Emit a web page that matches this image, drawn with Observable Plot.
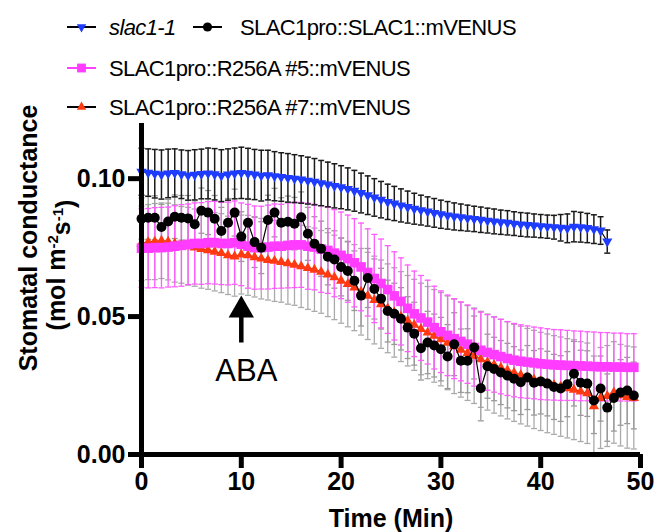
<!DOCTYPE html>
<html><head><meta charset="utf-8">
<script src="https://cdn.jsdelivr.net/npm/d3@7"></script>
<script src="https://cdn.jsdelivr.net/npm/@observablehq/plot@0.6"></script>
<style>
body{margin:0;background:#fff;font-family:"Liberation Sans",Arial,sans-serif;}
#wrap{position:relative;width:666px;height:532px;overflow:hidden;}
#legend{position:absolute;left:0;top:0;width:666px;height:113px;}
#chart{position:absolute;left:0;top:113px;}
</style></head><body>
<div id="wrap"><div id="legend"></div><div id="chart"></div></div>
<script>
// ---- data ----
const time = [0,0.67,1.33,2,2.67,3.33,4,4.67,5.33,6,6.67,7.33,8,8.67,9.33,10,10.67,11.33,12,12.67,13.33,14,14.67,15.33,16,16.67,17.33,18,18.67,19.33,20,20.67,21.33,22,22.67,23.33,24,24.67,25.33,26,26.67,27.33,28,28.67,29.33,30,30.67,31.33,32,32.67,33.33,34,34.67,35.33,36,36.67,37.33,38,38.67,39.33,40,40.67,41.33,42,42.67,43.33,44,44.67,45.33,46,46.67,47.33,48,48.67,49.33];

const slac1Val = [0.1025,0.1022,0.1018,0.1015,0.1019,0.1021,0.1016,0.1012,0.1014,0.1017,0.1019,0.1016,0.1011,0.1015,0.1019,0.1021,
0.1018,0.1015,0.1011,0.1013,0.1009,0.1006,0.1003,0.1000,0.0997,0.0993,0.0989,0.0984,0.0979,0.0974,0.0969,
0.0963,0.0956,0.0948,0.0940,0.0932,0.0924,0.0916,0.0910,0.0903,0.0897,0.0891,0.0886,0.0881,0.0876,0.0871,
0.0867,0.0863,0.0860,0.0857,0.0854,0.0851,0.0848,0.0845,0.0842,0.0840,0.0837,0.0834,0.0832,0.0830,0.0828,
0.0826,0.0824,0.0822,0.0820,0.0826,0.0824,0.0821,0.0817,0.0812,0.0772];
const slac1Err = [0.0085,0.0086,0.0088,0.0089,0.0088,0.0087,0.0088,0.009,0.0091,0.009,0.0092,0.0093,0.0094,0.0093,0.0092,0.0093,
0.0092,0.0091,0.0092,0.009,0.0089,0.0088,0.0088,0.0087,0.0086,0.0085,0.0084,0.0082,0.0081,0.008,0.0078,
0.0076,0.0074,0.0072,0.007,0.0068,0.0066,0.0064,0.0062,0.006,0.0058,0.0056,0.0054,0.0053,0.0052,0.0051,
0.005,0.0049,0.0048,0.0047,0.0046,0.0046,0.0045,0.0045,0.0044,0.0044,0.0043,0.0043,0.0043,0.0042,0.0042,
0.0042,0.0043,0.0048,0.0052,0.0055,0.0054,0.0053,0.0052,0.005,0.0042];

const wtVal = [0.0855,0.0858,0.0858,0.0825,0.0845,0.0862,0.0858,0.0856,0.0835,0.0884,
0.0877,0.0855,0.081,0.084,0.0877,0.079,0.084,0.077,0.075,0.085,
0.0877,0.084,0.0844,0.0837,0.086,0.080,0.0764,0.0746,0.0717,0.0707,
0.068,0.0665,0.063,0.0576,0.064,0.060,0.0565,0.052,0.051,0.0492,
0.046,0.0438,0.0385,0.0406,0.0395,0.0382,0.0355,0.040,0.034,0.034,
0.0388,0.024,0.032,0.031,0.0297,0.0286,0.0275,0.0262,0.0279,0.026,
0.0265,0.0257,0.0245,0.0239,0.0255,0.0293,0.026,0.0257,0.0196,0.0239,
0.017,0.0205,0.0225,0.0232,0.0214];
const wtErr = [0.0075,0.0078,0.008,0.0082,0.008,0.0079,0.0081,0.0083,0.0085,0.0082,
0.008,0.0084,0.0086,0.0088,0.0085,0.009,0.0088,0.0092,0.0094,0.009,
0.0088,0.0091,0.0093,0.0095,0.0092,0.0096,0.0098,0.01,0.0102,0.0104,
0.0105,0.0106,0.0108,0.011,0.0107,0.0109,0.011,0.0112,0.0111,0.0113,
0.0112,0.0114,0.0115,0.0113,0.0114,0.0115,0.0116,0.0114,0.0115,0.0116,
0.0114,0.0118,0.0116,0.0115,0.0116,0.0117,0.0116,0.0117,0.0116,0.0117,
0.0118,0.0117,0.0118,0.0119,0.0118,0.0117,0.0118,0.0119,0.012,0.0118,
0.0122,0.012,0.0119,0.012,0.0121];

const r5Val = [0.0748,0.0748,0.075,0.075,0.0752,0.0755,0.0758,0.0762,0.0765,0.0765,0.0768,
0.0768,0.0765,0.0765,0.0768,0.0762,0.0755,0.075,0.075,0.0752,0.0755,
0.0755,0.0758,0.076,0.076,0.0755,0.0752,0.0745,0.074,0.073,0.0722,
0.071,0.0695,0.068,0.066,0.0638,0.062,0.0598,0.0575,0.0555,0.053,
0.051,0.0495,0.048,0.046,0.0445,0.0432,0.042,0.041,0.040,0.0388,
0.0378,0.037,0.0362,0.0355,0.0348,0.0342,0.0338,0.0335,0.0332,0.0329,
0.0327,0.0325,0.0324,0.0323,0.0322,0.0321,0.032,0.0319,0.0318,0.0318,
0.0317,0.0317,0.0316,0.0316];
const r5Err = [0.0142,0.0144,0.0145,0.0146,0.0145,0.0147,0.0148,0.0146,0.0147,0.0148,0.0149,
0.015,0.0149,0.015,0.0151,0.015,0.0152,0.0151,0.015,0.0152,0.0153,
0.0152,0.0154,0.0155,0.0154,0.0156,0.0155,0.0157,0.0156,0.0158,0.0157,
0.0158,0.016,0.0159,0.0158,0.016,0.0161,0.0159,0.016,0.0158,0.0157,
0.0155,0.0154,0.0152,0.015,0.0148,0.0146,0.0145,0.0143,0.0142,0.014,
0.0138,0.0137,0.0136,0.0135,0.0134,0.0133,0.0132,0.0131,0.013,0.013,
0.0129,0.0128,0.0128,0.0127,0.0126,0.0126,0.0125,0.0125,0.0124,0.0124,
0.0123,0.0123,0.0122,0.0122];

const r7Val = [0.0765,0.077,0.0772,0.0775,0.0772,0.0765,0.076,0.0755,0.075,0.0745,0.074,
0.0735,0.073,0.0722,0.0718,0.0725,0.0722,0.0715,0.071,0.0705,0.0702,
0.0698,0.0693,0.0688,0.0682,0.0676,0.067,0.0662,0.0652,0.0642,0.063,
0.0618,0.0605,0.059,0.0575,0.056,0.0545,0.053,0.0515,0.05,0.0485,
0.047,0.0455,0.0442,0.043,0.0418,0.0405,0.0392,0.038,0.0368,0.0358,
0.0345,0.0335,0.0325,0.0315,0.0305,0.0296,0.0288,0.028,0.0272,0.0265,
0.0258,0.0252,0.0246,0.024,0.0235,0.0228,0.0222,0.0175,0.0205,0.0212,
0.0225,0.0215,0.0208,0.0205];
const r7Err = [0.0135,0.0136,0.0138,0.0137,0.0139,0.014,0.0139,0.0141,0.014,0.0142,0.0141,
0.0142,0.0143,0.0142,0.0144,0.0143,0.0145,0.0144,0.0146,0.0145,0.0147,
0.0146,0.0148,0.0147,0.0149,0.015,0.0151,0.015,0.0152,0.0153,0.0154,
0.0155,0.0156,0.0157,0.0158,0.0159,0.016,0.0161,0.0162,0.0163,0.0164,
0.0165,0.0166,0.0167,0.0168,0.0169,0.017,0.0171,0.0172,0.0172,0.0173,
0.0174,0.0174,0.0175,0.0175,0.0176,0.0176,0.0177,0.0177,0.0178,0.0178,
0.0179,0.0179,0.018,0.018,0.0181,0.0181,0.0182,0.0182,0.0183,0.0183,
0.0184,0.0184,0.0185,0.0185];

const seriesNames = ["slac1-1","SLAC1pro::SLAC1::mVENUS","SLAC1pro::R256A #5::mVENUS","SLAC1pro::R256A #7::mVENUS"];
const xTicks = [0,10,20,30,40,50];
const yTicks = [0,0.05,0.10];
const abaArrow = [{t:10, from:0.0406, to:0.0505, head:0.0523}];
const abaLabel = [{t:10, v:0.0304, text:"ABA"}];

// ---- styles ----
const markColors = ["#1e3cff","#000000","#ff3cff","#ff3a12"];
const lineColors = ["#000000","#000000","#ff3cff","#000000"];
const barColors = ["#1a1a1a","#999999","#ff5cff","#aaaaaa"];
const symbols = ["triangle","circle","square","triangle"];
const rotations = [180,0,0,0];
const radii = [3.8,5,5.4,3.8];

const build = (vals, errs) => vals.map((v,i) => ({t: time[i], v, e: errs[i]}));
const data = [build(slac1Val,slac1Err), build(wtVal,wtErr), build(r5Val,r5Err), build(r7Val,r7Err)];

function errBars(d, color, w) {
  return [
    Plot.ruleX(d, {x:"t", y1: r => r.v - r.e, y2: r => r.v + r.e, stroke: color, strokeWidth: w}),
    Plot.link(d, {x1: r => r.t - 0.3, x2: r => r.t + 0.3, y1: r => r.v + r.e, y2: r => r.v + r.e, stroke: color, strokeWidth: w}),
    Plot.link(d, {x1: r => r.t - 0.3, x2: r => r.t + 0.3, y1: r => r.v - r.e, y2: r => r.v - r.e, stroke: color, strokeWidth: w})
  ];
}
function seriesMarks(k) {
  return [
    Plot.line(data[k], {x:"t", y:"v", stroke: lineColors[k], strokeWidth: 1.2}),
    Plot.dot(data[k], {x:"t", y:"v", symbol: symbols[k], rotate: rotations[k], r: radii[k], fill: markColors[k], stroke: "none"})
  ];
}

const plot = Plot.plot({
  width: 666, height: 419,
  marginLeft: 141, marginRight: 26, marginTop: 10, marginBottom: 78,
  x: {domain: [0, 50]},
  y: {domain: [0, 0.12]},
  style: {fontFamily: "'Liberation Sans', Arial, sans-serif", fontSize: "25px", fontWeight: "bold", overflow: "visible", background: "transparent", color: "#000"},
  marks: [
    ...errBars(data[3], barColors[3], 1.3),
    ...errBars(data[1], barColors[1], 1.3),
    ...errBars(data[2], barColors[2], 1.3),
    ...errBars(data[0], barColors[0], 1.5),
    ...seriesMarks(3),
    ...seriesMarks(2),
    ...seriesMarks(1),
    ...seriesMarks(0),
    Plot.link(abaArrow, {x1:"t", x2:"t", y1:"from", y2:"to", stroke:"#000", strokeWidth:4.5}),
    Plot.dot(abaArrow, {x:"t", y:"head", symbol:"triangle", r:9.4, fill:"#000", stroke:"none"}),
    Plot.text(abaLabel, {x:"t", y:"v", text:"text", dx:5, fontSize:31, fontWeight:"normal", fill:"#000"}),
    Plot.ruleX([0], {stroke:"#000", strokeWidth:5}),
    Plot.ruleY([0], {stroke:"#000", strokeWidth:5}),
    Plot.axisX({ticks: xTicks, tickSize: 14, tickPadding: 4, strokeWidth: 5, label: null, fontSize: 25, fontWeight: "bold"}),
    Plot.axisY({ticks: yTicks, tickFormat: d => d.toFixed(2), tickSize: 13, tickPadding: 3, strokeWidth: 5, label: null, fontSize: 25, fontWeight: "bold"}),
    Plot.text(["Time (Min)"], {frameAnchor: "bottom", dy: 64, lineAnchor: "middle", fontSize: 25, fontWeight: "bold", fill: "#000"})
  ]
});
document.getElementById("chart").appendChild(plot);

// y-axis title (two lines, with superscripts)
const svg = d3.select(plot);
svg.append("text")
  .attr("transform", "translate(37,125) rotate(-90)")
  .attr("text-anchor", "middle")
  .style("font-size", "25px").style("font-weight", "bold")
  .text("Stomatal conductance");
const t2 = svg.append("text")
  .attr("transform", "translate(65,152) rotate(-90)")
  .attr("text-anchor", "middle")
  .style("font-size", "25px").style("font-weight", "bold");
t2.append("tspan").text("(mol m");
t2.append("tspan").attr("dy", "-0.45em").style("font-size", "15px").text("-2");
t2.append("tspan").attr("dy", "0.45em").text("s");
t2.append("tspan").attr("dy", "-0.45em").style("font-size", "15px").text("-1");
t2.append("tspan").attr("dy", "0.45em").text(")");

// legend
const leg = d3.select("#legend").append("svg").attr("width", 666).attr("height", 120).style("overflow", "visible");
const legItems = [{s:0,x:67,y:27,tx:109},{s:1,x:193,y:27,tx:240},{s:2,x:67,y:68,tx:109},{s:3,x:67,y:107,tx:109}];
const symType = {triangle: d3.symbolTriangle, circle: d3.symbolCircle, square: d3.symbolSquare};
legItems.forEach(it => {
  const k = it.s;
  leg.append("line").attr("x1", it.x).attr("x2", it.x + 29).attr("y1", it.y).attr("y2", it.y)
    .attr("stroke", lineColors[k]).attr("stroke-width", 2);
  leg.append("path")
    .attr("d", d3.symbol().type(symType[symbols[k]]).size(Math.PI * radii[k] * radii[k] * 0.85)())
    .attr("transform", `translate(${it.x + 14.5},${it.y}) rotate(${rotations[k]})`)
    .attr("fill", markColors[k]);
  leg.append("text").attr("x", it.tx).attr("y", it.y + 8)
    .style("font-size", "22px")
    .style("letter-spacing", "-0.6px")
    .style("font-style", k === 0 ? "italic" : "normal")
    .text(seriesNames[k]);
});
</script>
</body></html>
